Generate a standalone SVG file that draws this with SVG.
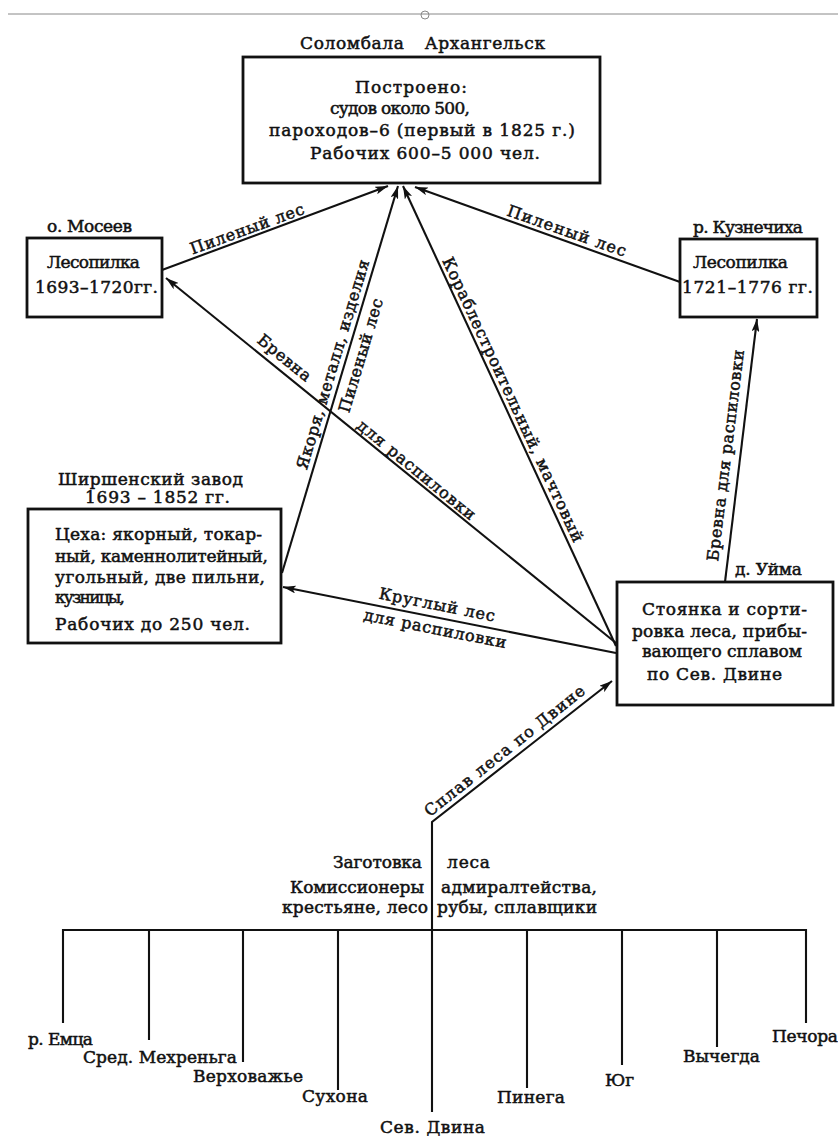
<svg xmlns="http://www.w3.org/2000/svg" width="838" height="1142" viewBox="0 0 838 1142">
<style>
.t{font-family:"DejaVu Serif","Liberation Serif",serif;font-size:17px;fill:#111;stroke:#111;stroke-width:0.5}
.r{font-size:16px}
.m{text-anchor:middle}
.box{fill:#fff;stroke:#111;stroke-width:2.8}
.ln{fill:none;stroke:#111;stroke-width:2.1}
.ar{marker-end:url(#ah)}
.frame{fill:none;stroke:#888;stroke-width:1}
</style>
<defs>
<marker id="ah" viewBox="0 0 13 8" refX="13" refY="4" markerWidth="13" markerHeight="8" markerUnits="userSpaceOnUse" orient="auto">
<path d="M0,0 L13,4 L0,8 L3,4 z" fill="#111"/>
</marker>
</defs>
<rect width="838" height="1142" fill="#fff"/>
<g id="frame">
<line class="frame" x1="8" y1="14" x2="838" y2="14"/>
<circle class="frame" cx="425" cy="15" r="4" fill="#fff"/>
</g>
<g id="connectors">
<path class="ln ar" d="M162,270 L388,186"/>
<path class="ln ar" d="M680,282 L415,187"/>
<path class="ln ar" d="M282,573 L398,186"/>
<path class="ln ar" d="M616,646 L403,186"/>
<path class="ln ar" d="M616,643 L166,278"/>
<path class="ln ar" d="M616,653 L283,587"/>
<path class="ln ar" d="M725,582 L757,319"/>
<path class="ln ar" d="M432,1112 L432,822 L612,681"/>
<path class="ln" d="M63,1023 V930 H806 V1023 M149,930 V1040 M243,930 V1062 M338,930 V1090 M527,930 V1088 M622,930 V1065 M717,930 V1047"/>
<text class="t r m" transform="translate(249,234) rotate(-20)" textLength="120">Пиленый лес</text>
<text class="t r m" transform="translate(565,236) rotate(19.4)" textLength="125">Пиленый лес</text>
<text class="t r m" transform="translate(731,456) rotate(-83)" textLength="213">Бревна для распиловки</text>
<text class="t r m" transform="translate(281,362) rotate(39.3)" textLength="64">Бревна</text>
<text class="t r m" transform="translate(413,474) rotate(39.3)" textLength="148">для распиловки</text>
<text class="t r m" transform="translate(338,366) rotate(-73.3)" textLength="218">Якоря, металл, изделия</text>
<text class="t r m" transform="translate(366,357) rotate(-73.3)" textLength="118">Пиленый лес</text>
<text class="t r m" transform="translate(508,402) rotate(65)" textLength="312">Кораблестроительный, мачтовый</text>
<text class="t r m" transform="translate(436,610) rotate(11.3)" textLength="118">Круглый лес</text>
<text class="t r m" transform="translate(434,634) rotate(11.3)" textLength="145">для распиловки</text>
<text class="t r m" transform="translate(508,755) rotate(-38.5)" textLength="200">Сплав леса по Двине</text>
</g>
<g id="solombala">
<text class="t" x="300" y="49" textLength="245" word-spacing="14">Соломбала Архангельск</text>
<rect class="box" x="243" y="57" width="357" height="126"/>
<text class="t" x="355" y="93" textLength="112">Построено:</text>
<text class="t" x="330" y="114" textLength="140">судов около 500,</text>
<text class="t" x="269" y="136" textLength="306">пароходов–6 (первый в 1825 г.)</text>
<text class="t" x="310" y="159" textLength="230">Рабочих 600–5 000 чел.</text>
</g>
<g id="moseev">
<text class="t" x="47" y="232" textLength="85">о. Мосеев</text>
<rect class="box" x="27" y="238" width="135" height="79"/>
<text class="t" x="47" y="268" textLength="93">Лесопилка</text>
<text class="t" x="35" y="293" textLength="123">1693–1720гг.</text>
</g>
<g id="kuznechikha">
<text class="t" x="693" y="233" textLength="110">р. Кузнечиха</text>
<rect class="box" x="680" y="239" width="137" height="78"/>
<text class="t" x="693" y="268" textLength="95">Лесопилка</text>
<text class="t" x="682" y="293" textLength="131">1721–1776 гг.</text>
</g>
<g id="shirsha">
<text class="t" x="58" y="485" textLength="185">Ширшенский завод</text>
<text class="t" x="85" y="503" textLength="145">1693 – 1852 гг.</text>
<rect class="box" x="28" y="509" width="253" height="134"/>
<text class="t" x="55" y="540" textLength="207">Цеха: якорный, токар-</text>
<text class="t" x="55" y="562" textLength="213">ный, каменнолитейный,</text>
<text class="t" x="55" y="583" textLength="210">угольный, две пильни,</text>
<text class="t" x="55" y="603" textLength="70">кузницы,</text>
<text class="t" x="55" y="630" textLength="195">Рабочих до 250 чел.</text>
</g>
<g id="uima">
<text class="t" x="735" y="575" textLength="67">д. Уйма</text>
<rect class="box" x="617" y="582" width="216" height="123"/>
<text class="t" x="642" y="615" textLength="165">Стоянка и сорти-</text>
<text class="t" x="632" y="637" textLength="175">ровка леса, прибы-</text>
<text class="t" x="642" y="657" textLength="160">вающего сплавом</text>
<text class="t" x="647" y="680" textLength="135">по Сев. Двине</text>
</g>
<g id="zagotovka">
<text class="t" x="333" y="868" textLength="89">Заготовка</text>
<text class="t" x="447" y="868" textLength="43">леса</text>
<text class="t" x="290" y="893" textLength="134">Комиссионеры</text>
<text class="t" x="441" y="893" textLength="156">адмиралтейства,</text>
<text class="t" x="282" y="913" textLength="146">крестьяне, лесо</text>
<text class="t" x="437" y="913" textLength="160">рубы, сплавщики</text>
</g>
<g id="rivers">
<text class="t" x="28" y="1045" textLength="65">р. Емца</text>
<text class="t" x="83" y="1063" textLength="154">Сред. Мехреньга</text>
<text class="t" x="193" y="1082" textLength="110">Верховажье</text>
<text class="t" x="302" y="1102" textLength="66">Сухона</text>
<text class="t" x="380" y="1133" textLength="105">Сев. Двина</text>
<text class="t" x="497" y="1103" textLength="68">Пинега</text>
<text class="t" x="605" y="1086">Юг</text>
<text class="t" x="683" y="1062" textLength="77">Вычегда</text>
<text class="t" x="772" y="1042" textLength="66">Печора</text>
</g>
</svg>
